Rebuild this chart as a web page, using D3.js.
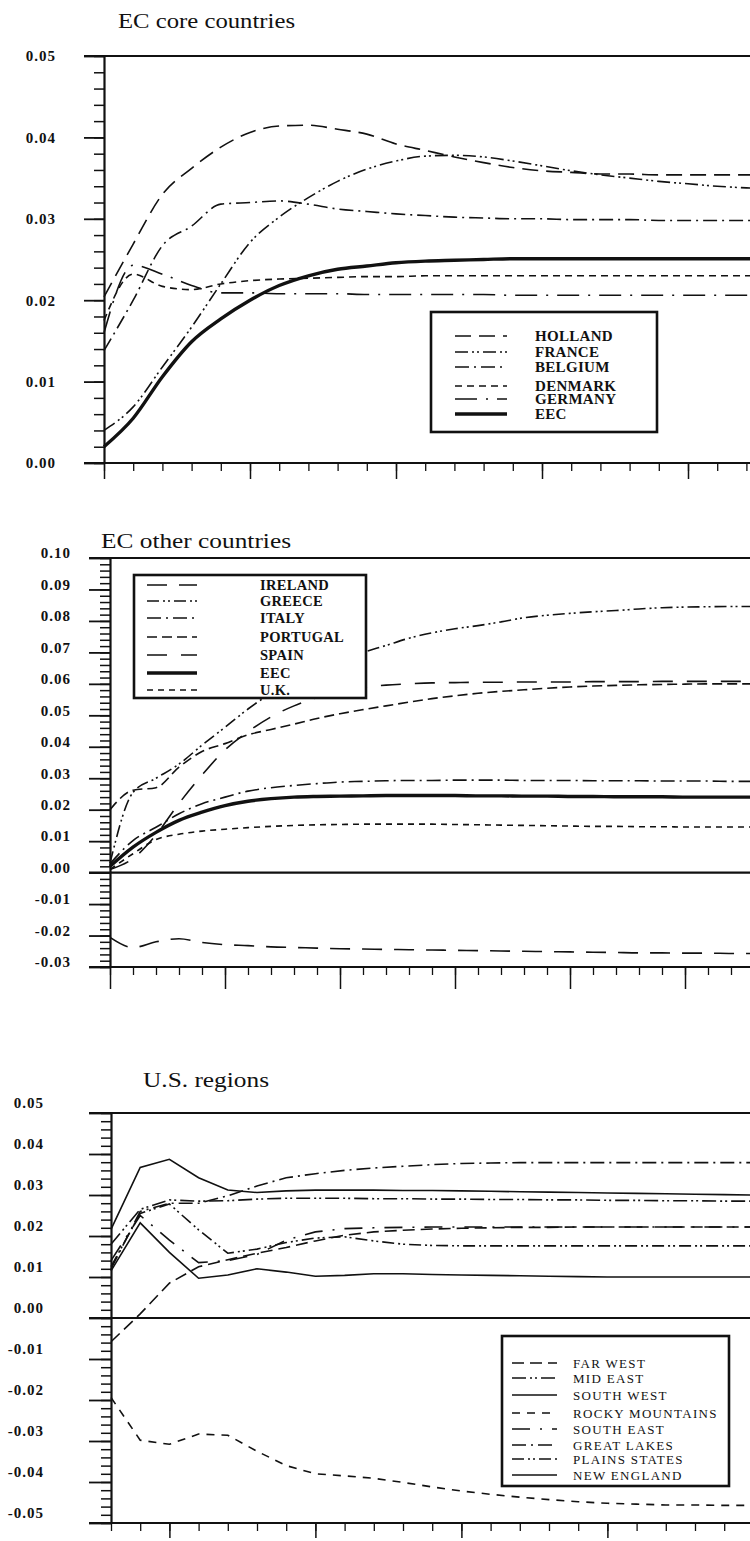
<!DOCTYPE html>
<html>
<head>
<meta charset="utf-8">
<script src="https://cdn.jsdelivr.net/npm/d3@7"></script>
<style>
  body { margin: 0; background: #fff; }
  svg { display: block; font-family: 'Liberation Serif', 'Times New Roman', serif; }
</style>
</head>
<body>
<svg id="chart" width="750" height="1541"></svg>
<script>
/* global d3 */

// ---- EC core countries
const corePeriods = [0, 1, 2, 3, 4, 5, 6, 7, 8, 9, 10, 11, 12, 13, 14, 15, 16, 17, 18, 19, 20, 21, 22, 23]
const holland = [0.0204, 0.0269, 0.0330, 0.0362, 0.0388, 0.0406, 0.0414, 0.0415, 0.0410, 0.0404, 0.0392, 0.0384, 0.0376, 0.0369, 0.0363, 0.0359, 0.0357, 0.0355, 0.0355, 0.0354, 0.0354, 0.0354, 0.0354, 0.0354]
const france = [0.0040, 0.0069, 0.0118, 0.0167, 0.0220, 0.0271, 0.0302, 0.0326, 0.0346, 0.0361, 0.0371, 0.0377, 0.0378, 0.0376, 0.0371, 0.0365, 0.0359, 0.0354, 0.0350, 0.0346, 0.0343, 0.0340, 0.0338, 0.0337]
const belgium = [0.0138, 0.0200, 0.0267, 0.0291, 0.0318, 0.0320, 0.0322, 0.0318, 0.0312, 0.0309, 0.0306, 0.0304, 0.0302, 0.0301, 0.0300, 0.0300, 0.0299, 0.0299, 0.0299, 0.0298, 0.0298, 0.0298, 0.0298, 0.0298]
const denmark = [0.0175, 0.0232, 0.0217, 0.0213, 0.0220, 0.0224, 0.0226, 0.0227, 0.0228, 0.0229, 0.0229, 0.0230, 0.0230, 0.0230, 0.0230, 0.0230, 0.0230, 0.0230, 0.0230, 0.0230, 0.0230, 0.0230, 0.0230, 0.0230]
const germany = [0.0160, 0.0243, 0.0232, 0.0218, 0.0209, 0.0209, 0.0208, 0.0208, 0.0208, 0.0207, 0.0207, 0.0207, 0.0207, 0.0207, 0.0206, 0.0206, 0.0206, 0.0206, 0.0206, 0.0206, 0.0206, 0.0206, 0.0206, 0.0206]
const eecCore = [0.0020, 0.0055, 0.0106, 0.0149, 0.0177, 0.0200, 0.0218, 0.0230, 0.0238, 0.0242, 0.0246, 0.0248, 0.0249, 0.0250, 0.0251, 0.0251, 0.0251, 0.0251, 0.0251, 0.0251, 0.0251, 0.0251, 0.0251, 0.0251]
const coreTicks = [0, 0.01, 0.02, 0.03, 0.04, 0.05]
const coreMajorX = [0, 5, 10, 15, 20]

// ---- EC other countries
const otherPeriods = [0, 1, 2, 3, 4, 5, 6, 7, 8, 9, 10, 11, 12, 13, 14, 15, 16, 17, 18, 19, 20, 21, 22, 23, 24, 25, 26, 27, 28]
const ireland = [-0.0206, -0.0238, -0.0220, -0.0210, -0.0222, -0.0229, -0.0232, -0.0236, -0.0238, -0.0240, -0.0242, -0.0243, -0.0244, -0.0245, -0.0246, -0.0247, -0.0248, -0.0249, -0.0250, -0.0251, -0.0252, -0.0253, -0.0254, -0.0255, -0.0255, -0.0256, -0.0256, -0.0257, -0.0257]
const greece = [0.0030, 0.0255, 0.0300, 0.0345, 0.0405, 0.0462, 0.0520, 0.0570, 0.0610, 0.0645, 0.0675, 0.0700, 0.0722, 0.0745, 0.0762, 0.0775, 0.0785, 0.0797, 0.0810, 0.0818, 0.0824, 0.0829, 0.0833, 0.0838, 0.0842, 0.0844, 0.0845, 0.0846, 0.0846]
const italy = [0.0028, 0.0102, 0.0144, 0.0187, 0.0219, 0.0240, 0.0259, 0.0270, 0.0277, 0.0283, 0.0288, 0.0290, 0.0292, 0.0293, 0.0293, 0.0294, 0.0294, 0.0294, 0.0293, 0.0293, 0.0293, 0.0292, 0.0292, 0.0292, 0.0291, 0.0291, 0.0291, 0.0290, 0.0290]
const portugal = [0.0200, 0.0262, 0.0270, 0.0335, 0.0385, 0.0410, 0.0438, 0.0455, 0.0472, 0.0490, 0.0505, 0.0518, 0.0530, 0.0542, 0.0553, 0.0562, 0.0570, 0.0576, 0.0581, 0.0586, 0.0590, 0.0593, 0.0595, 0.0597, 0.0598, 0.0599, 0.0600, 0.0600, 0.0600]
const spain = [0.0010, 0.0045, 0.0120, 0.0220, 0.0310, 0.0390, 0.0448, 0.0495, 0.0530, 0.0556, 0.0575, 0.0588, 0.0596, 0.0600, 0.0603, 0.0604, 0.0605, 0.0605, 0.0606, 0.0606, 0.0606, 0.0607, 0.0607, 0.0607, 0.0608, 0.0608, 0.0608, 0.0608, 0.0608]
const eecOther = [0.0020, 0.0081, 0.0128, 0.0166, 0.0192, 0.0213, 0.0227, 0.0235, 0.0240, 0.0242, 0.0243, 0.0244, 0.0245, 0.0245, 0.0245, 0.0245, 0.0244, 0.0244, 0.0243, 0.0243, 0.0242, 0.0242, 0.0241, 0.0241, 0.0241, 0.0240, 0.0240, 0.0240, 0.0240]
const uk = [0.0010, 0.0060, 0.0105, 0.0122, 0.0132, 0.0138, 0.0143, 0.0147, 0.0150, 0.0152, 0.0153, 0.0154, 0.0154, 0.0154, 0.0154, 0.0153, 0.0152, 0.0151, 0.0150, 0.0149, 0.0148, 0.0147, 0.0147, 0.0146, 0.0146, 0.0145, 0.0145, 0.0145, 0.0145]
const otherTicks = [-0.03, -0.02, -0.01, 0, 0.01, 0.02, 0.03, 0.04, 0.05, 0.06, 0.07, 0.08, 0.09, 0.10]
const otherMajorX = [0, 5, 10, 15, 20, 25]

// ---- U.S. regions
const usPeriods = [0, 1, 2, 3, 4, 5, 6, 7, 8, 9, 10, 11, 12, 13, 14, 15, 16, 17, 18, 19, 20, 21, 22]
const farWest = [-0.0058, 0.0010, 0.0085, 0.0125, 0.0142, 0.0158, 0.0172, 0.0188, 0.0202, 0.0210, 0.0214, 0.0217, 0.0219, 0.0220, 0.0221, 0.0221, 0.0222, 0.0222, 0.0222, 0.0222, 0.0222, 0.0222, 0.0222]
const midEast = [0.0180, 0.0265, 0.0288, 0.0285, 0.0286, 0.0290, 0.0292, 0.0292, 0.0292, 0.0291, 0.0291, 0.0290, 0.0290, 0.0289, 0.0289, 0.0288, 0.0288, 0.0287, 0.0287, 0.0286, 0.0286, 0.0285, 0.0285]
const southWest = [0.0115, 0.0232, 0.0160, 0.0097, 0.0105, 0.0120, 0.0112, 0.0102, 0.0104, 0.0108, 0.0108, 0.0106, 0.0105, 0.0104, 0.0103, 0.0102, 0.0101, 0.0100, 0.0100, 0.0100, 0.0100, 0.0100, 0.0100]
const rocky = [-0.0194, -0.0298, -0.0308, -0.0283, -0.0286, -0.0325, -0.0360, -0.0380, -0.0385, -0.0391, -0.0401, -0.0412, -0.0422, -0.0430, -0.0437, -0.0443, -0.0448, -0.0452, -0.0454, -0.0456, -0.0456, -0.0457, -0.0457]
const southEast = [0.0140, 0.0250, 0.0190, 0.0135, 0.0140, 0.0155, 0.0190, 0.0210, 0.0218, 0.0220, 0.0221, 0.0222, 0.0222, 0.0222, 0.0222, 0.0222, 0.0222, 0.0222, 0.0222, 0.0222, 0.0222, 0.0222, 0.0222]
const greatLakes = [0.0120, 0.0260, 0.0280, 0.0280, 0.0298, 0.0322, 0.0342, 0.0352, 0.0360, 0.0366, 0.0370, 0.0374, 0.0377, 0.0378, 0.0379, 0.0379, 0.0379, 0.0379, 0.0379, 0.0379, 0.0379, 0.0379, 0.0379]
const plains = [0.0125, 0.0255, 0.0278, 0.0215, 0.0158, 0.0168, 0.0184, 0.0195, 0.0198, 0.0188, 0.0180, 0.0177, 0.0176, 0.0176, 0.0176, 0.0176, 0.0176, 0.0176, 0.0176, 0.0176, 0.0176, 0.0176, 0.0176]
const newEngland = [0.0216, 0.0367, 0.0387, 0.0342, 0.0312, 0.0306, 0.0310, 0.0312, 0.0312, 0.0312, 0.0311, 0.0311, 0.0310, 0.0309, 0.0308, 0.0307, 0.0306, 0.0305, 0.0304, 0.0303, 0.0302, 0.0301, 0.0300]
const usTicks = [-0.05, -0.04, -0.03, -0.02, -0.01, 0, 0.01, 0.02, 0.03, 0.04, 0.05]
const usMajorX = [2, 7, 12, 17, 22]

const ink = '#111'
const fmt = d => d3.format('.2f')(d).replace('\u2212', '-')
const svg = d3.select('#chart')

function drawPanel (cfg) {
  const xMax = cfg.periods[cfg.periods.length - 1]
  const x = d3.scaleLinear().domain([0, xMax]).range([cfg.left, cfg.left + xMax * cfg.step])
  const y = d3.scaleLinear().domain(cfg.yDomain).range([cfg.bottom, cfg.top])
  const g = svg.append('g')

  g.append('text')
    .attr('x', cfg.titleX)
    .attr('y', cfg.titleY)
    .attr('font-size', 20)
    .attr('textLength', cfg.titleWidth)
    .attr('lengthAdjust', 'spacingAndGlyphs')
    .attr('fill', ink)
    .text(cfg.title)

  // horizontal frame lines (top border, bottom axis, zero line)
  const frame = [cfg.yDomain[1], cfg.yDomain[0]]
  if (cfg.zeroLine) frame.push(0)
  g.selectAll('.frame')
    .data(frame)
    .join('line')
    .attr('class', 'frame')
    .attr('x1', cfg.left - cfg.major)
    .attr('x2', 750)
    .attr('y1', d => y(d))
    .attr('y2', d => y(d))
    .attr('stroke', ink)
    .attr('stroke-width', 2.2)

  const minor = d3.range(cfg.yDomain[0], cfg.yDomain[1] + 1e-9, 0.002)
  const yMinor = g.append('g')
    .attr('transform', `translate(${cfg.left},0)`)
    .call(d3.axisLeft(y).tickValues(minor).tickSize(10).tickSizeOuter(0).tickFormat(''))
  yMinor.select('.domain').attr('stroke', ink).attr('stroke-width', 2.2)
  yMinor.selectAll('.tick line').attr('stroke', ink).attr('stroke-width', 1.5)

  const yMajor = g.append('g')
    .attr('transform', `translate(${cfg.left},0)`)
    .call(d3.axisLeft(y).tickValues(cfg.ticks).tickSize(cfg.major).tickPadding(cfg.pad).tickFormat(fmt))
  yMajor.select('.domain').remove()
  yMajor.selectAll('.tick line').attr('stroke', ink).attr('stroke-width', 1.8)
  yMajor.selectAll('text')
    .attr('y', -cfg.labelShift)
    .attr('font-family', "'Liberation Serif', serif")
    .attr('font-size', 15)
    .attr('font-weight', 'bold')
    .attr('letter-spacing', 1)
    .attr('fill', ink)

  const xMinor = g.append('g')
    .attr('transform', `translate(0,${cfg.bottom})`)
    .call(d3.axisBottom(x).tickValues(cfg.periods).tickSize(8).tickSizeOuter(0).tickFormat(''))
  xMinor.select('.domain').remove()
  xMinor.selectAll('.tick line').attr('stroke', ink).attr('stroke-width', 1.3)

  const xMajor = g.append('g')
    .attr('transform', `translate(0,${cfg.bottom})`)
    .call(d3.axisBottom(x).tickValues(cfg.majorX).tickSize(cfg.xMajorLen).tickSizeOuter(0).tickFormat(''))
  xMajor.select('.domain').remove()
  xMajor.selectAll('.tick line').attr('stroke', ink).attr('stroke-width', 1.5)

  const line = d3.line()
    .x((d, i) => x(cfg.periods[i]))
    .y(d => y(d))
    .curve(cfg.curve)

  g.selectAll('.series')
    .data(cfg.series)
    .join('path')
    .attr('class', 'series')
    .attr('d', s => line(s.values))
    .attr('fill', 'none')
    .attr('stroke', ink)
    .attr('stroke-width', s => s.width || 1.6)
    .attr('stroke-dasharray', s => s.dash || null)

  // legend
  const lg = cfg.legend
  const box = g.append('g')
  box.append('rect')
    .attr('x', lg.x)
    .attr('y', lg.y)
    .attr('width', lg.w)
    .attr('height', lg.h)
    .attr('fill', '#fff')
    .attr('stroke', ink)
    .attr('stroke-width', 2.6)

  const rows = box.selectAll('.row')
    .data(cfg.series)
    .join('g')
    .attr('class', 'row')
    .attr('transform', (s, i) => `translate(0,${lg.rows[i]})`)

  rows.append('line')
    .attr('x1', lg.sx1)
    .attr('x2', lg.sx2)
    .attr('stroke', ink)
    .attr('stroke-width', s => s.width || 1.6)
    .attr('stroke-dasharray', s => s.dash || null)

  rows.append('text')
    .attr('x', lg.tx)
    .attr('dy', '0.35em')
    .attr('font-size', lg.fontSize)
    .attr('font-weight', lg.weight)
    .attr('letter-spacing', lg.spacing)
    .attr('fill', ink)
    .text(s => s.name)
}

drawPanel({
  title: 'EC core countries',
  titleX: 118,
  titleY: 28,
  titleWidth: 177,
  periods: corePeriods,
  left: 104,
  step: 29.2,
  top: 56,
  bottom: 463,
  yDomain: [0, 0.05],
  ticks: coreTicks,
  majorX: coreMajorX,
  major: 20,
  pad: 28,
  labelShift: 0,
  xMajorLen: 16,
  zeroLine: false,
  curve: d3.curveMonotoneX,
  series: [
    { name: 'HOLLAND', values: holland, dash: '16,8' },
    { name: 'FRANCE', values: france, dash: '13,4,2,3,2,4' },
    { name: 'BELGIUM', values: belgium, dash: '14,5,2,5' },
    { name: 'DENMARK', values: denmark, dash: '7,5' },
    { name: 'GERMANY', values: germany, dash: '22,9,2,9' },
    { name: 'EEC', values: eecCore, width: 3.4 }
  ],
  legend: {
    x: 431, y: 312, w: 226, h: 120,
    sx1: 455, sx2: 507, tx: 535,
    rows: [336, 352, 367, 386, 399, 414],
    fontSize: 15, weight: 'bold', spacing: 0.3
  }
})

drawPanel({
  title: 'EC other countries',
  titleX: 101,
  titleY: 548,
  titleWidth: 190,
  periods: otherPeriods,
  left: 110,
  step: 23,
  top: 558,
  bottom: 967,
  yDomain: [-0.03, 0.10],
  ticks: otherTicks,
  majorX: otherMajorX,
  major: 21,
  pad: 18,
  labelShift: 5,
  xMajorLen: 22,
  zeroLine: true,
  curve: d3.curveMonotoneX,
  series: [
    { name: 'IRELAND', values: ireland, dash: '20,12' },
    { name: 'GREECE', values: greece, dash: '12,4,2,3,2,4' },
    { name: 'ITALY', values: italy, dash: '14,5,2,5' },
    { name: 'PORTUGAL', values: portugal, dash: '10,5' },
    { name: 'SPAIN', values: spain, dash: '20,14' },
    { name: 'EEC', values: eecOther, width: 3.4 },
    { name: 'U.K.', values: uk, dash: '6,5' }
  ],
  legend: {
    x: 134, y: 575, w: 232, h: 123,
    sx1: 147, sx2: 197, tx: 260,
    rows: [585, 601, 618, 637, 655, 673, 690],
    fontSize: 14.5, weight: 'bold', spacing: 0.3
  }
})

drawPanel({
  title: 'U.S. regions',
  titleX: 143,
  titleY: 1087,
  titleWidth: 126,
  periods: usPeriods,
  left: 111,
  step: 29.2,
  top: 1113,
  bottom: 1523,
  yDomain: [-0.05, 0.05],
  ticks: usTicks,
  majorX: usMajorX,
  major: 22,
  pad: 45,
  labelShift: 10,
  xMajorLen: 15,
  zeroLine: true,
  curve: d3.curveLinear,
  series: [
    { name: 'FAR WEST', values: farWest, dash: '12,6' },
    { name: 'MID EAST', values: midEast, dash: '14,4,2,3,2,4' },
    { name: 'SOUTH WEST', values: southWest },
    { name: 'ROCKY MOUNTAINS', values: rocky, dash: '8,7' },
    { name: 'SOUTH EAST', values: southEast, dash: '18,10,2,10' },
    { name: 'GREAT LAKES', values: greatLakes, dash: '14,5,2,5' },
    { name: 'PLAINS STATES', values: plains, dash: '12,4,2,3,2,4' },
    { name: 'NEW ENGLAND', values: newEngland }
  ],
  legend: {
    x: 502, y: 1336, w: 227, h: 150,
    sx1: 512, sx2: 557, tx: 573,
    rows: [1363, 1378, 1395, 1413, 1429, 1445, 1459, 1475],
    fontSize: 13, weight: 'normal', spacing: 1.3
  }
})
</script>
</body>
</html>
